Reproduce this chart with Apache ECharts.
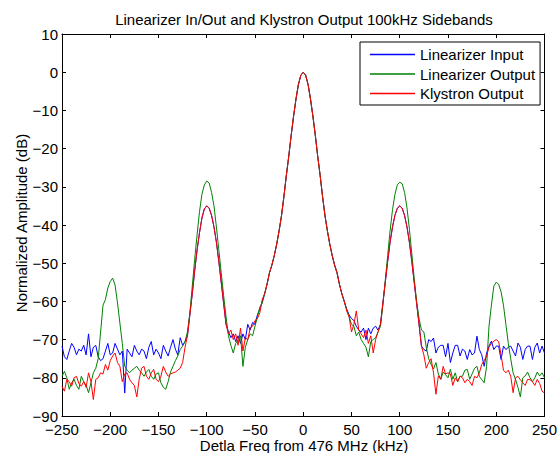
<!DOCTYPE html>
<html>
<head>
<meta charset="utf-8">
<script src="https://cdn.jsdelivr.net/npm/echarts@6/dist/echarts.min.js"></script>
<style>
  html, body { margin: 0; padding: 0; background: #fff; }
  #chart { width: 560px; height: 453px; }
</style>
</head>
<body>
<div id="chart"></div>
<script>
// frequency grid (kHz), 2.5 kHz steps from -250 to 250
var freq = [];
for (var i = 0; i <= 200; i++) freq.push(-250 + i * 2.5);

var seriesNames = ['Linearizer Input', 'Linearizer Output', 'Klystron Output'];
var seriesColors = ['#0000ff', '#008000', '#ff0000'];

// Linearizer Input (dB)
var linIn = [
  -71.7, -74.5, -75.2, -73, -71, -72, -74, -72.5, -73, -71.5,
  -74, -68.5, -74.5, -72, -71.5, -74.5, -75.5, -75, -73, -71,
  -74, -73.5, -71, -72.5, -74, -73, -84, -72.5, -73.5, -74.5,
  -71.5, -73, -74, -72.5, -73, -75, -72, -70.5, -74, -72.5,
  -73.5, -75, -71.5, -73, -74.3, -72, -70, -72.5, -74, -69.5,
  -71.5, -70.5, -69, -63.5, -58, -52, -46.5, -42, -38.2, -35.8,
  -35, -35.6, -37.5, -40.5, -44.5, -49.5, -55, -60.5, -66, -68,
  -69.5, -68.5, -70.5, -69, -71, -68.5, -70, -66, -67.5, -65.5,
  -66, -63.5, -62, -60, -58, -55.5, -52.5, -50.5, -48, -45,
  -41.5, -37.5, -32.5, -27, -22, -16.5, -11.5, -7, -3.2, -0.8,
  0, -0.8, -3.2, -7, -11.5, -16.5, -22, -27, -32.5, -37.5,
  -41.5, -45, -48, -50.5, -52.5, -55.5, -58, -60, -62, -63.5,
  -64.5, -65, -66.5, -67.5, -68, -67, -70, -67, -68.5, -67,
  -66.5, -67.5, -66, -60.5, -55, -49.5, -44.5, -40.5, -37.5, -35.6,
  -35, -35.6, -37.5, -40.5, -44.5, -49.5, -55, -60.5, -66, -71.7,
  -72.6, -73, -70, -70.5, -69.6, -73.5, -72, -71.5, -71.5, -74.5,
  -71, -76, -73.5, -71.5, -71.5, -74.3, -72.5, -73, -75.2, -72.6,
  -74, -73.5, -69.1, -72.6, -74, -77, -73.5, -71.7, -70.4, -72.6,
  -71.7, -71.7, -75.2, -71.7, -72.6, -72, -71.7, -73, -74.3, -70.9,
  -72, -75.2, -72.6, -71.7, -71.7, -75.2, -72, -70.9, -73.5, -71.7,
  -73.5
];

// Linearizer Output (dB)
var linOut = [
  -79.6, -78.3, -80, -83, -81.3, -80.4, -82, -83, -79.6, -81,
  -82, -83.9, -81.3, -78.7, -77.5, -75, -68, -61, -59.5, -56.5,
  -54.8, -53.9, -55.7, -60.4, -65.7, -71, -77, -78, -78.7, -78,
  -77.5, -77, -78, -78.7, -79.6, -78.5, -77.8, -79.6, -80.4, -79,
  -78.7, -81.3, -82.5, -83, -81, -78.5, -77, -75.5, -74.3, -72.6,
  -71.7, -70.5, -68, -63, -56, -49, -42.5, -36.5, -32, -29.5,
  -28.5, -29, -31.5, -35, -40.5, -46.5, -52.5, -58.5, -64, -69,
  -71.5, -73.5, -71, -70, -69, -77, -72, -70, -68.5, -69,
  -66.5, -64, -61.5, -60.5, -58, -55.5, -52.5, -50.5, -48, -45,
  -41.5, -37.5, -32.5, -27, -22, -16.5, -11.5, -7, -3.2, -0.8,
  0, -0.8, -3.2, -7, -11.5, -16.5, -22, -27, -32.5, -37.5,
  -41.5, -45, -48, -50.5, -52.5, -55.5, -58, -60, -62, -64,
  -66, -66.5, -69, -68, -70, -71, -72, -74.5, -70.5, -70,
  -69.5, -68, -66.5, -61, -54.5, -48, -41.5, -36, -32, -29.5,
  -28.8, -29.2, -31.5, -35.5, -41, -47.5, -54, -60, -64.5, -67.5,
  -68, -72, -75, -76.5, -77.7, -76, -79, -80.4, -78.5, -79.2,
  -80, -77.8, -80.4, -78.7, -81, -79.6, -79.6, -78, -77.8, -80.4,
  -79, -77.5, -77, -79.6, -80.5, -81.3, -77, -66.5, -61, -56,
  -55, -55.5, -57.5, -61, -66, -71, -75, -78.7, -80.4, -82.5,
  -85, -80, -79.5, -78.5, -80, -81, -80, -78.5, -79.5, -78.7,
  -80
];

// Klystron Output (dB)
var klyOut = [
  -82.2, -83.5, -80.4, -81, -82.2, -80, -79.6, -81.5, -82.2, -81,
  -82.5, -78.7, -81, -85.7, -80.4, -80, -78.7, -79, -76.5, -78,
  -75.5, -74.3, -73.5, -76, -77, -81, -79, -78.7, -80.4, -81.3,
  -82, -85, -80.4, -77.5, -77, -79.6, -80.4, -78.7, -77.8, -80.4,
  -81, -79.6, -77, -78.5, -79.6, -79, -78.7, -78.5, -78, -77.5,
  -76, -72, -69, -63.5, -58, -52, -46.5, -42, -38.2, -35.8,
  -35, -35.6, -37.5, -40.5, -44.5, -49.5, -55, -60.5, -66, -68.5,
  -67.5, -70, -68.5, -71.5, -67, -73, -69.5, -70, -67, -66.5,
  -65, -64.5, -63, -59.5, -58, -55.5, -52.5, -50.5, -48, -45,
  -41.5, -37.5, -32.5, -27, -22, -16.5, -11.5, -7, -3.2, -0.8,
  0, -0.8, -3.2, -7, -11.5, -16.5, -22, -27, -32.5, -37.5,
  -41.5, -45, -48, -50.5, -52.5, -55.5, -58, -60, -62.5, -64,
  -68, -66, -62.5, -67.5, -68.5, -69.5, -67.5, -71, -69, -73.5,
  -70, -68, -66, -60.5, -55, -49.5, -44.5, -40.5, -37.5, -35.6,
  -35, -35.6, -37.5, -40.5, -44.5, -49.5, -55, -60.5, -66, -71.7,
  -74, -77.5, -76, -75, -78.7, -84.3, -79.5, -80.4, -77, -79,
  -78.7, -79, -82, -80, -81, -79.6, -80, -81.3, -80.4, -81,
  -82, -79.6, -80, -78.7, -76.5, -75.5, -74.3, -72, -71, -70.4,
  -70, -70.5, -74, -78, -78.7, -78, -79.6, -83.9, -80, -79.6,
  -80.5, -81.3, -82, -80.4, -80.5, -81, -82, -80.4, -81.5, -83.5,
  -84
];

var FONT = '"Liberation Sans", Arial, Helvetica, sans-serif';

function pairs(vals) {
  return freq.map(function (f, k) { return [f, vals[k]]; });
}
function minus(v) { return String(v).replace('-', '\u2212'); }

var myChart = echarts.init(document.getElementById('chart'), null, { renderer: 'svg' });

var tickStyle = { show: true, inside: true, length: 4, lineStyle: { color: '#000', width: 1 } };
var lineStyleAxis = { show: true, onZero: false, lineStyle: { color: '#000', width: 1 } };
// thin line legend sample (tiny corner dots keep the full icon box)
var legendLine = 'path://M0,0h0.01v0.01h-0.01z M0,6.3H45V7.7H0z M44.99,13.99h0.01v0.01h-0.01z';

option = {
  animation: false,
  backgroundColor: '#fff',
  grid: { left: 62, right: 15, top: 34, bottom: 37, containLabel: false },
  xAxis: [{
    type: 'value', min: -250, max: 250, interval: 50, position: 'bottom',
    axisLine: lineStyleAxis, axisTick: tickStyle, splitLine: { show: false },
    axisLabel: { color: '#000', fontSize: 15, fontFamily: FONT, margin: 6, formatter: minus }
  }, {
    type: 'value', min: -250, max: 250, interval: 50, position: 'top',
    axisLine: lineStyleAxis, axisTick: tickStyle, splitLine: { show: false },
    axisLabel: { show: false }
  }],
  yAxis: [{
    type: 'value', min: -90, max: 10, interval: 10, position: 'left',
    axisLine: lineStyleAxis, axisTick: tickStyle, splitLine: { show: false },
    axisLabel: { color: '#000', fontSize: 15, fontFamily: FONT, lineHeight: 12, margin: 4, formatter: minus }
  }, {
    type: 'value', min: -90, max: 10, interval: 10, position: 'right',
    axisLine: lineStyleAxis, axisTick: tickStyle, splitLine: { show: false },
    axisLabel: { show: false }
  }],
  legend: {
    orient: 'vertical', left: 360, top: 42,
    padding: [5, 5, 4, 10], itemGap: 4.5, itemWidth: 45, itemHeight: 14,
    backgroundColor: '#fff', borderColor: '#000', borderWidth: 1,
    itemStyle: { borderWidth: 0 },
    textStyle: { color: '#000', fontSize: 15, fontFamily: FONT, lineHeight: 14 },
    data: seriesNames.map(function (n, k) {
      return { name: n, icon: legendLine, itemStyle: { color: seriesColors[k], borderColor: seriesColors[k], borderWidth: 0, opacity: 1 } };
    })
  },
  graphic: [
    { type: 'text', x: 304, y: 19, style: { text: 'Linearizer In/Out and Klystron Output 100kHz Sidebands', font: '15px ' + FONT, fill: '#000', align: 'center', verticalAlign: 'middle' } },
    { type: 'text', x: 304, y: 445, style: { text: 'Detla Freq from 476 MHz (kHz)', font: '15px ' + FONT, fill: '#000', align: 'center', verticalAlign: 'middle' } },
    { type: 'text', x: 21, y: 223, rotation: Math.PI / 2, style: { text: 'Normalized Amplitude (dB)', font: '15px ' + FONT, fill: '#000', align: 'center', verticalAlign: 'middle' } }
  ],
  series: [
    { name: seriesNames[0], type: 'line', symbol: 'none', data: pairs(linIn), lineStyle: { color: seriesColors[0], width: 1 }, itemStyle: { color: seriesColors[0] } },
    { name: seriesNames[1], type: 'line', symbol: 'none', data: pairs(linOut), lineStyle: { color: seriesColors[1], width: 1 }, itemStyle: { color: seriesColors[1] } },
    { name: seriesNames[2], type: 'line', symbol: 'none', data: pairs(klyOut), lineStyle: { color: seriesColors[2], width: 1 }, itemStyle: { color: seriesColors[2] } }
  ]
};

myChart.setOption(option);

window.addEventListener('resize', function () {
  myChart.resize();
});
</script>
</body>
</html>
